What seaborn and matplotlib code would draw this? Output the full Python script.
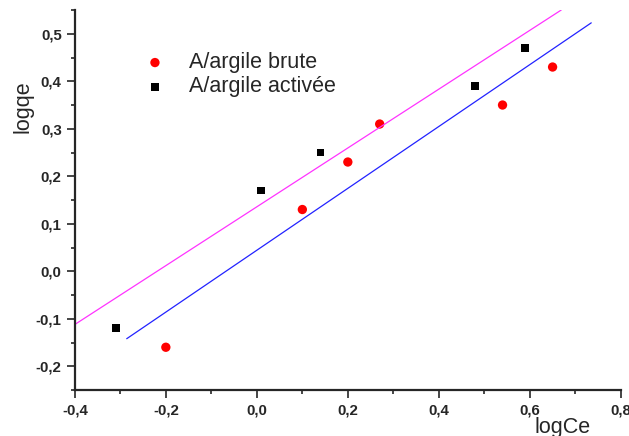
import numpy as np
import pandas as pd
import seaborn as sns
import matplotlib.pyplot as plt
from matplotlib.ticker import FuncFormatter, MultipleLocator

# values
brute_x = [-0.20, 0.10, 0.20, 0.27, 0.54, 0.65]
brute_y = [-0.16, 0.13, 0.23, 0.31, 0.35, 0.43]
active_x = [-0.31, 0.01, 0.14, 0.48, 0.59]
active_y = [-0.12, 0.17, 0.25, 0.39, 0.47]

# linear fit lines (end points)
fit_active_x = [-0.40, 0.669]
fit_active_y = [-0.112, 0.550]
fit_brute_x = [-0.286, 0.735]
fit_brute_y = [-0.142, 0.523]

sns.set_style("ticks")
plt.rcParams['font.family'] = ['Liberation Sans', 'DejaVu Sans']

fig = plt.figure(figsize=(6.29, 4.36), dpi=100)
ax = fig.add_axes([0.119, 0.1055, 0.868, 0.8715])

sns.lineplot(x=fit_active_x, y=fit_active_y, color='#ff33ff', lw=0.9, ax=ax)
sns.lineplot(x=fit_brute_x, y=fit_brute_y, color='#2222ff', lw=0.9, ax=ax)

sns.scatterplot(x=brute_x, y=brute_y, color='#ff0000', marker='o', s=45,
                edgecolor='none', label='A/argile brute', ax=ax)
sns.scatterplot(x=active_x, y=active_y, color='black', marker='s', s=32,
                edgecolor='none', label='A/argile activée', ax=ax)

ax.set_xlim(-0.4, 0.8)
ax.set_ylim(-0.25, 0.55)

ax.xaxis.set_major_locator(MultipleLocator(0.2))
ax.xaxis.set_minor_locator(MultipleLocator(0.1))
ax.yaxis.set_major_locator(MultipleLocator(0.1))
ax.yaxis.set_minor_locator(MultipleLocator(0.05))

comma = FuncFormatter(lambda v, p: f"{v:.1f}".replace('.', ',').replace('-0,0', '0,0'))
ax.xaxis.set_major_formatter(comma)
ax.yaxis.set_major_formatter(comma)

ax.tick_params(which='major', length=6, width=1.2, labelsize=10.8, direction='out')
ax.tick_params(which='minor', length=3, width=1.2, direction='out')
for lab in ax.get_xticklabels() + ax.get_yticklabels():
    lab.set_fontweight('bold')

sns.despine(ax=ax)
for s in ['left', 'bottom']:
    ax.spines[s].set_linewidth(1.6)

ax.set_xlabel('logCe', fontsize=15.5)
ax.xaxis.set_label_coords(0.894, -0.07)
ax.set_ylabel('logqe', fontsize=15.5)
ax.yaxis.set_label_coords(-0.076, 0.745)

ax.legend(loc='upper left', bbox_to_anchor=(0.127, 0.889), frameon=False,
          fontsize=15.5, handlelength=1.0, handletextpad=1.08,
          labelspacing=0.15, borderpad=0, borderaxespad=0)

fig.savefig('out.png', dpi=100)
